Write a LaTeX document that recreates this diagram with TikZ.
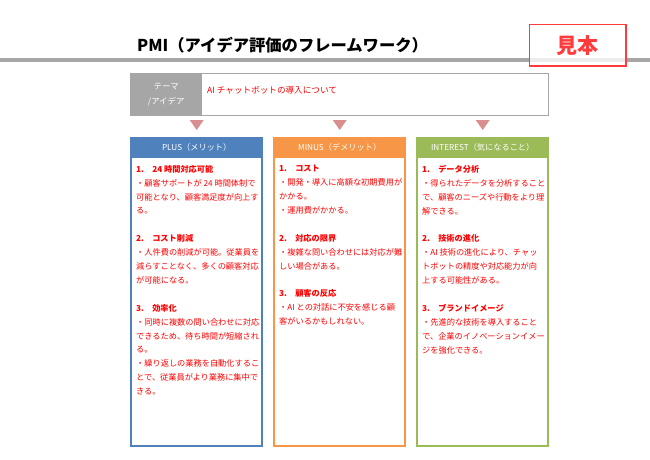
\documentclass[tikz,border=0pt]{standalone}
\usepackage{fontspec}
\setmainfont{Noto Sans CJK JP}
\usepackage{xcolor}
\usetikzlibrary{positioning,calc}
\definecolor{pmBlue}{HTML}{4F81BD}
\definecolor{pmOrange}{HTML}{F79646}
\definecolor{pmGreen}{HTML}{9BBB59}
\definecolor{pmGray}{HTML}{A6A6A6}
\definecolor{pmRed}{HTML}{FF0000}
\definecolor{pmStamp}{HTML}{FF3B3B}
\definecolor{pmArrow}{HTML}{D98F8F}
\newcommand{\pmBody}{\fontsize{8.2}{13.9}\selectfont}
\newcommand{\pmHead}{\fontsize{8.2}{10}\selectfont}

\begin{document}
\begin{tikzpicture}[x=1pt,y=-1pt,
  col/.style={draw=#1,line width=1.6pt,minimum width=131.4pt,minimum height=308.4pt,
    anchor=north west,inner sep=0pt},
  hd/.style={fill=#1,text=white,font=\pmHead,minimum width=133pt,minimum height=21pt,
    anchor=north west,inner sep=0pt},
  bd/.style={text=pmRed,font=\pmBody,align=left,anchor=north west,inner sep=0pt},
  tri/.style={fill=pmArrow}
]
\useasboundingbox (0,0) rectangle (650,460);

% title and rule
\node[font=\fontsize{16.3}{18}\selectfont\bfseries,anchor=west,inner sep=0pt] (title) at (137,45)
  {PMI（アイデア評価のフレームワーク）};
\draw[pmGray,line width=3.5pt] (0,60) -- (650,60);
\node[draw=pmStamp,line width=1.5pt,fill=white,fill opacity=0.8,text opacity=1,
  text=pmStamp,font=\fontsize{21}{22}\selectfont\bfseries,minimum width=96.5pt,minimum height=41.5pt,
  anchor=north west,inner sep=0pt] (stamp) at (528.5,24) {見本};

% theme
\node[draw=pmGray,line width=1.2pt,minimum width=418pt,minimum height=42pt,
  anchor=north west,inner sep=0pt] (theme) at (130,73) {};
\node[fill=pmGray,text=white,font=\fontsize{8.4}{15}\selectfont,align=center,
  minimum width=72pt,minimum height=43pt,anchor=north west,inner sep=0pt]
  (lbl) at (theme.north west) {テーマ\\/アイデア};
\node[text=pmRed,font=\fontsize{8.6}{10}\selectfont,anchor=west,inner sep=0pt]
  (idea) at (207,90) {AI チャットボットの導入について};

% columns
\node[col=pmBlue] (plus) at (130,137) {};
\node[col=pmOrange,right=10pt of plus] (minus) {};
\node[col=pmGreen,right=10pt of minus] (inter) {};
\node[hd=pmBlue] (hplus) at (plus.north west) {PLUS（メリット）};
\node[hd=pmOrange] (hminus) at (minus.north west) {MINUS（デメリット）};
\node[hd=pmGreen] (hinter) at (inter.north west) {INTEREST（気になること）};

\foreach \c in {hplus,hminus,hinter}
  \fill[tri] ($(\c.north)+(-7,-17)$) -- ($(\c.north)+(7,-17)$) -- ($(\c.north)+(0,-7)$) -- cycle;

\node[bd] (bplus) at ($(plus.north west)+(6,28)$) {%
  \textbf{1.　24 時間対応可能}\\
  ・顧客サポートが 24 時間体制で\\
  可能となり、顧客満足度が向上す\\
  る。\\[13.9pt]
  \textbf{2.　コスト削減}\\
  ・人件費の削減が可能。従業員を\\
  減らすことなく、多くの顧客対応\\
  が可能になる。\\[13.9pt]
  \textbf{3.　効率化}\\
  ・同時に複数の問い合わせに対応\\
  できるため、待ち時間が短縮され\\
  る。\\
  ・繰り返しの業務を自動化するこ\\
  とで、従業員がより業務に集中で\\
  きる。};

\node[bd] (bminus) at ($(minus.north west)+(6,28)$) {%
  \textbf{1.　コスト}\\
  ・開発・導入に高額な初期費用が\\
  かかる。\\
  ・運用費がかかる。\\[13.9pt]
  \textbf{2.　対応の限界}\\
  ・複雑な問い合わせには対応が難\\
  しい場合がある。\\[13.9pt]
  \textbf{3.　顧客の反応}\\
  ・AI との対話に不安を感じる顧\\
  客がいるかもしれない。};

\node[bd] (binter) at ($(inter.north west)+(6,28)$) {%
  \textbf{1.　データ分析}\\
  ・得られたデータを分析すること\\
  で、顧客のニーズや行動をより理\\
  解できる。\\[13.9pt]
  \textbf{2.　技術の進化}\\
  ・AI 技術の進化により、チャッ\\
  トボットの精度や対応能力が向\\
  上する可能性がある。\\[13.9pt]
  \textbf{3.　ブランドイメージ}\\
  ・先進的な技術を導入すること\\
  で、企業のイノベーションイメー\\
  ジを強化できる。};
\end{tikzpicture}
\end{document}
